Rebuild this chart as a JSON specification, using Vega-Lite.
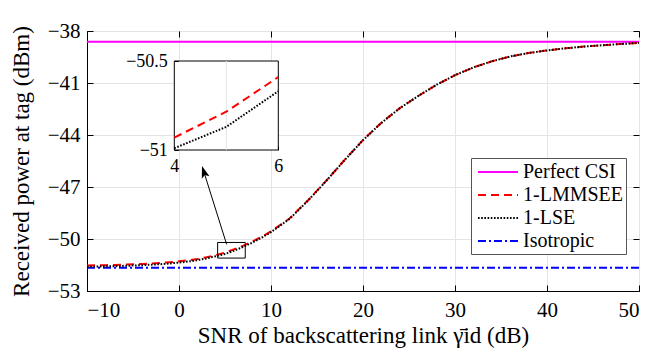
{
  "$schema": "https://vega.github.io/schema/vega-lite/v6.json",
  "width": 552,
  "height": 260,
  "autosize": {"type": "none"},
  "padding": {"left": 87, "top": 31, "right": 18, "bottom": 58},
  "background": "white",
  "config": {
    "view": {"stroke": "black", "strokeWidth": 1},
    "font": "Liberation Serif"
  },
  "datasets": {
    "curves": [
      {"x": -10, "y": -38.62, "s": "Perfect CSI"}, {"x": 50, "y": -38.62, "s": "Perfect CSI"},
      {"x": -10, "y": -51.66, "s": "Isotropic"}, {"x": 50, "y": -51.66, "s": "Isotropic"},
      {"x": -10, "y": -51.53, "s": "1-LMMSEE"}, {"x": -9, "y": -51.52, "s": "1-LMMSEE"}, {"x": -8, "y": -51.51, "s": "1-LMMSEE"}, {"x": -7, "y": -51.50, "s": "1-LMMSEE"}, {"x": -6, "y": -51.48, "s": "1-LMMSEE"}, {"x": -5, "y": -51.46, "s": "1-LMMSEE"}, {"x": -4, "y": -51.44, "s": "1-LMMSEE"}, {"x": -3, "y": -51.41, "s": "1-LMMSEE"}, {"x": -2, "y": -51.38, "s": "1-LMMSEE"}, {"x": -1, "y": -51.34, "s": "1-LMMSEE"}, {"x": 0, "y": -51.29, "s": "1-LMMSEE"}, {"x": 1, "y": -51.23, "s": "1-LMMSEE"}, {"x": 2, "y": -51.15, "s": "1-LMMSEE"}, {"x": 3, "y": -51.05, "s": "1-LMMSEE"}, {"x": 4, "y": -50.93, "s": "1-LMMSEE"}, {"x": 5, "y": -50.785, "s": "1-LMMSEE"}, {"x": 6, "y": -50.59, "s": "1-LMMSEE"}, {"x": 7, "y": -50.38, "s": "1-LMMSEE"}, {"x": 8, "y": -50.14, "s": "1-LMMSEE"}, {"x": 9, "y": -49.87, "s": "1-LMMSEE"}, {"x": 10, "y": -49.56, "s": "1-LMMSEE"}, {"x": 12, "y": -48.82, "s": "1-LMMSEE"}, {"x": 14, "y": -47.78, "s": "1-LMMSEE"}, {"x": 16, "y": -46.64, "s": "1-LMMSEE"}, {"x": 18, "y": -45.44, "s": "1-LMMSEE"}, {"x": 20, "y": -44.29, "s": "1-LMMSEE"}, {"x": 22, "y": -43.29, "s": "1-LMMSEE"}, {"x": 24, "y": -42.45, "s": "1-LMMSEE"}, {"x": 26, "y": -41.75, "s": "1-LMMSEE"}, {"x": 28, "y": -41.10, "s": "1-LMMSEE"}, {"x": 30, "y": -40.55, "s": "1-LMMSEE"}, {"x": 32, "y": -40.10, "s": "1-LMMSEE"}, {"x": 34, "y": -39.75, "s": "1-LMMSEE"}, {"x": 36, "y": -39.47, "s": "1-LMMSEE"}, {"x": 38, "y": -39.27, "s": "1-LMMSEE"}, {"x": 40, "y": -39.12, "s": "1-LMMSEE"}, {"x": 42, "y": -39.00, "s": "1-LMMSEE"}, {"x": 44, "y": -38.90, "s": "1-LMMSEE"}, {"x": 46, "y": -38.82, "s": "1-LMMSEE"}, {"x": 48, "y": -38.75, "s": "1-LMMSEE"}, {"x": 50, "y": -38.69, "s": "1-LMMSEE"},
      {"x": -10, "y": -51.60, "s": "1-LSE"}, {"x": -9, "y": -51.59, "s": "1-LSE"}, {"x": -8, "y": -51.58, "s": "1-LSE"}, {"x": -7, "y": -51.57, "s": "1-LSE"}, {"x": -6, "y": -51.55, "s": "1-LSE"}, {"x": -5, "y": -51.53, "s": "1-LSE"}, {"x": -4, "y": -51.51, "s": "1-LSE"}, {"x": -3, "y": -51.48, "s": "1-LSE"}, {"x": -2, "y": -51.45, "s": "1-LSE"}, {"x": -1, "y": -51.41, "s": "1-LSE"}, {"x": 0, "y": -51.36, "s": "1-LSE"}, {"x": 1, "y": -51.30, "s": "1-LSE"}, {"x": 2, "y": -51.22, "s": "1-LSE"}, {"x": 3, "y": -51.12, "s": "1-LSE"}, {"x": 4, "y": -50.99, "s": "1-LSE"}, {"x": 5, "y": -50.87, "s": "1-LSE"}, {"x": 6, "y": -50.67, "s": "1-LSE"}, {"x": 7, "y": -50.45, "s": "1-LSE"}, {"x": 8, "y": -50.20, "s": "1-LSE"}, {"x": 9, "y": -49.92, "s": "1-LSE"}, {"x": 10, "y": -49.60, "s": "1-LSE"}, {"x": 12, "y": -48.85, "s": "1-LSE"}, {"x": 14, "y": -47.80, "s": "1-LSE"}, {"x": 16, "y": -46.65, "s": "1-LSE"}, {"x": 18, "y": -45.45, "s": "1-LSE"}, {"x": 20, "y": -44.30, "s": "1-LSE"}, {"x": 22, "y": -43.30, "s": "1-LSE"}, {"x": 24, "y": -42.45, "s": "1-LSE"}, {"x": 26, "y": -41.75, "s": "1-LSE"}, {"x": 28, "y": -41.10, "s": "1-LSE"}, {"x": 30, "y": -40.55, "s": "1-LSE"}, {"x": 32, "y": -40.10, "s": "1-LSE"}, {"x": 34, "y": -39.75, "s": "1-LSE"}, {"x": 36, "y": -39.47, "s": "1-LSE"}, {"x": 38, "y": -39.27, "s": "1-LSE"}, {"x": 40, "y": -39.12, "s": "1-LSE"}, {"x": 42, "y": -39.00, "s": "1-LSE"}, {"x": 44, "y": -38.90, "s": "1-LSE"}, {"x": 46, "y": -38.82, "s": "1-LSE"}, {"x": 48, "y": -38.75, "s": "1-LSE"}, {"x": 50, "y": -38.69, "s": "1-LSE"}
    ],
    "zoombox": [{"x": 4.2, "xe": 7.2, "y": -51.1, "ye": -50.2}],
    "arrow": [{"x": 5.18, "y": -50.31}, {"x": 2.6, "y": -45.95}],
    "head": [{"x": 2.72, "y": -46.16}],
    "insetbox": [{"x": 4, "xe": 6, "y": -51, "ye": -50.5}],
    "insetgrid": [{"x": 5, "y": -51, "ye": -50.5}]
  },
  "layer": [
    {
      "layer": [
        {
          "data": {"name": "curves"},
          "encoding": {
            "x": {"field": "x", "type": "quantitative", "scale": {"domain": [-10, 50], "nice": false},
              "axis": {"orient": "bottom", "values": [-10, 0, 10, 20, 30, 40, 50], "format": "d", "labelFont": "Liberation Serif", "labelFontSize": 21, "labelColor": "black", "title": "SNR of backscattering link γ̄id (dB)", "titleFont": "Liberation Serif", "titleFontSize": 23, "titleFontWeight": "normal", "titleColor": "black", "grid": true, "gridColor": "#e4e4e4", "domainColor": "black", "tickColor": "black", "tickSize": -6, "labelPadding": 14, "titlePadding": 4}},
            "y": {"field": "y", "type": "quantitative", "scale": {"domain": [-53, -38], "nice": false, "zero": false},
              "axis": {"orient": "left", "values": [-53, -50, -47, -44, -41, -38], "format": "d", "labelFont": "Liberation Serif", "labelFontSize": 21, "labelColor": "black", "title": "Received power at tag (dBm)", "titleFont": "Liberation Serif", "titleFontSize": 23, "titleFontWeight": "normal", "titleColor": "black", "grid": true, "gridColor": "#e4e4e4", "domainColor": "black", "tickColor": "black", "tickSize": -6, "labelPadding": 13, "titlePadding": 14}},
            "color": {"field": "s", "type": "nominal", "scale": {"domain": ["Perfect CSI", "1-LMMSEE", "1-LSE", "Isotropic"], "range": ["#ff00ff", "#ff0000", "#000000", "#0000ff"]},
              "legend": {"title": null, "orient": "none", "legendX": 384, "legendY": 127, "fillColor": "white", "strokeColor": "#555555", "padding": 3, "symbolType": "M-0.7,0H3.3", "symbolSize": 400, "symbolStrokeWidth": 2, "labelFont": "Liberation Serif", "labelFontSize": 20, "labelColor": "black", "labelOffset": 27, "rowPadding": 2, "labelLimit": 300,
                "encode": {"symbols": {"update": {"strokeDash": {"signal": "datum.value === '1-LMMSEE' ? [8, 5] : datum.value === '1-LSE' ? [1.6, 1.6] : datum.value === 'Isotropic' ? [8, 3, 2, 3] : [1, 0]"}}}}}},
            "strokeDash": {"field": "s", "type": "nominal", "scale": {"domain": ["Perfect CSI", "1-LMMSEE", "1-LSE", "Isotropic"], "range": [[1, 0], [8, 5], [1.6, 1.6], [8, 3, 2, 3]]}, "legend": null}
          },
          "layer": [
            {"transform": [{"filter": "datum.s == 'Isotropic'"}], "mark": {"type": "line", "strokeWidth": 2}},
            {"transform": [{"filter": "datum.s == 'Perfect CSI'"}], "mark": {"type": "line", "strokeWidth": 2}},
            {"transform": [{"filter": "datum.s == '1-LMMSEE'"}], "mark": {"type": "line", "strokeWidth": 2}},
            {"transform": [{"filter": "datum.s == '1-LSE'"}], "mark": {"type": "line", "strokeWidth": 2}}
          ]
        },
        {
          "data": {"name": "zoombox"},
          "mark": {"type": "rect", "filled": false, "stroke": "black", "strokeWidth": 1},
          "encoding": {
            "x": {"field": "x", "type": "quantitative", "scale": {"domain": [-10, 50], "nice": false},
              "axis": {"orient": "top", "values": [-10, 0, 10, 20, 30, 40, 50], "labels": false, "title": null, "grid": false, "domain": false, "tickColor": "black", "tickSize": -6}},
            "x2": {"field": "xe"},
            "y": {"field": "y", "type": "quantitative", "scale": {"domain": [-53, -38], "nice": false, "zero": false},
              "axis": {"orient": "right", "values": [-53, -50, -47, -44, -41, -38], "labels": false, "title": null, "grid": false, "domain": false, "tickColor": "black", "tickSize": -6}},
            "y2": {"field": "ye"}
          }
        },
        {
          "data": {"name": "arrow"},
          "mark": {"type": "line", "color": "black", "strokeWidth": 1},
          "encoding": {
            "x": {"field": "x", "type": "quantitative", "scale": {"domain": [-10, 50], "nice": false}, "axis": null},
            "y": {"field": "y", "type": "quantitative", "scale": {"domain": [-53, -38], "nice": false, "zero": false}, "axis": null}
          }
        },
        {
          "data": {"name": "head"},
          "mark": {"type": "point", "shape": "M0,-1L0.6,0.8L0,0.4L-0.6,0.8Z", "filled": true, "color": "black", "size": 180, "angle": -17.5, "opacity": 1},
          "encoding": {
            "x": {"field": "x", "type": "quantitative", "scale": {"domain": [-10, 50], "nice": false}, "axis": null},
            "y": {"field": "y", "type": "quantitative", "scale": {"domain": [-53, -38], "nice": false, "zero": false}, "axis": null}
          }
        }
      ],
      "resolve": {"axis": {"x": "independent", "y": "independent"}}
    },
    {
      "encoding": {
        "x": {"field": "x", "type": "quantitative", "scale": {"domain": [4, 6], "nice": false, "range": [87.3, 191.3]},
          "axis": {"orient": "bottom", "offset": -141, "values": [4, 5, 6], "format": "d", "grid": false, "domain": false, "tickColor": "black", "tickSize": -4, "labelFont": "Liberation Serif", "labelFontSize": 18, "labelColor": "black", "labelPadding": 11, "labelOverlap": false, "labelFlush": false, "title": null, "zindex": 1}},
        "y": {"field": "y", "type": "quantitative", "scale": {"domain": [-51, -50.5], "nice": false, "zero": false, "range": [119, 30]},
          "axis": {"orient": "left", "offset": -87.3, "values": [-51, -50.5], "format": ".3~", "grid": false, "domain": false, "tickColor": "black", "tickSize": -4, "labelFont": "Liberation Serif", "labelFontSize": 18, "labelColor": "black", "labelPadding": 11, "labelOverlap": false, "labelFlush": false, "title": null, "zindex": 1}}
      },
      "layer": [
        {"data": {"name": "insetbox"}, "mark": {"type": "rect", "fill": "white", "stroke": "black", "strokeWidth": 1}, "encoding": {"x2": {"field": "xe"}, "y2": {"field": "ye"}}},
        {"data": {"name": "insetgrid"}, "mark": {"type": "rule", "color": "#e4e4e4", "strokeWidth": 1}, "encoding": {"y2": {"field": "ye"}}},
        {"data": {"name": "curves"}, "transform": [{"filter": "datum.x >= 4 && datum.x <= 6 && datum.s != 'Perfect CSI' && datum.s != 'Isotropic'"}],
          "encoding": {
            "color": {"field": "s", "type": "nominal", "scale": {"domain": ["Perfect CSI", "1-LMMSEE", "1-LSE", "Isotropic"], "range": ["#ff00ff", "#ff0000", "#000000", "#0000ff"]},
              "legend": {"title": null, "orient": "none", "legendX": 384, "legendY": 127, "fillColor": "white", "strokeColor": "#555555", "padding": 3, "symbolType": "M-0.7,0H3.3", "symbolSize": 400, "symbolStrokeWidth": 2, "labelFont": "Liberation Serif", "labelFontSize": 20, "labelColor": "black", "labelOffset": 27, "rowPadding": 2, "labelLimit": 300,
                "encode": {"symbols": {"update": {"strokeDash": {"signal": "datum.value === '1-LMMSEE' ? [8, 5] : datum.value === '1-LSE' ? [1.6, 1.6] : datum.value === 'Isotropic' ? [8, 3, 2, 3] : [1, 0]"}}}}}},
            "strokeDash": {"field": "s", "type": "nominal", "scale": {"domain": ["Perfect CSI", "1-LMMSEE", "1-LSE", "Isotropic"], "range": [[1, 0], [8, 5], [1.6, 1.6], [8, 3, 2, 3]]}, "legend": null}
          },
          "layer": [
            {"transform": [{"filter": "datum.s == '1-LMMSEE'"}], "mark": {"type": "line", "strokeWidth": 2}},
            {"transform": [{"filter": "datum.s == '1-LSE'"}], "mark": {"type": "line", "strokeWidth": 2}}
          ]
        }
      ]
    }
  ],
  "resolve": {"scale": {"x": "independent", "y": "independent"}}
}
